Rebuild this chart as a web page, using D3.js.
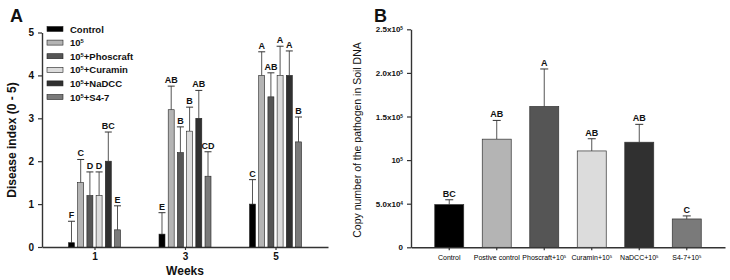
<!DOCTYPE html>
<html>
<head>
<meta charset="utf-8">
<script src="https://cdn.jsdelivr.net/npm/d3@7"></script>
<style>
  body { margin: 0; background: #fff; }
  svg { font-family: Arial, "Liberation Sans", sans-serif; }
</style>
</head>
<body>
<svg id="chart" width="730" height="280"></svg>
<script>
// ---- panel A data ----
var weeks = ["1", "3", "5"];
var seriesA = ["Control", "10^5", "10^5+Phoscraft", "10^5+Curamin", "10^5+NaDCC", "10^5+S4-7"];
var colors = ["#000000", "#b4b4b4", "#555555", "#dcdcdc", "#303030", "#7a7a7a"];
// disease index per week, one array per series
var meanA = [
  [0.1, 0.3, 1.0],
  [1.5, 3.2, 4.0],
  [1.2, 2.2, 3.5],
  [1.2, 2.7, 4.0],
  [2.0, 3.0, 4.0],
  [0.4, 1.65, 2.45]
];
var errA = [
  [0.5, 0.5, 0.57],
  [0.54, 0.55, 0.55],
  [0.55, 0.6, 0.56],
  [0.55, 0.56, 0.68],
  [0.68, 0.65, 0.57],
  [0.56, 0.57, 0.58]
];
var lettersA = [
  ["F", "E", "C"],
  ["C", "AB", "A"],
  ["D", "B", "AB"],
  ["D", "B", "A"],
  ["BC", "AB", "A"],
  ["E", "CD", "B"]
];
var ticksA = [0, 1, 2, 3, 4, 5];

// ---- panel B data ----
var groupsB = ["Control", "Postive control", "Phoscraft+10^5", "Curamin+10^5", "NaDCC+10^5", "S4-7+10^5"];
var meanB = [49000, 124000, 161500, 110500, 120500, 32500];
var errB = [5500, 21500, 43000, 14000, 20500, 3500];
var lettersB = ["BC", "AB", "A", "AB", "AB", "C"];
var ticksB = [0, 50000, 100000, 150000, 200000, 250000];
var tickLabelsB = ["0", "5.0x10^4", "10^5", "1.5x10^5", "2.0x10^5", "2.5x10^5"];

var svg = d3.select("#chart");

// writes "a^b" as text with superscript
function supText(sel, str) {
  sel.text(null);
  var parts = str.split(/\^(\d+)/);
  parts.forEach(function(p, i) {
    if (p === "") return;
    if (i % 2 === 1) {
      sel.append("tspan").attr("baseline-shift", "super").attr("font-size", "0.6em").text(p);
    } else {
      sel.append("tspan").text(p);
    }
  });
}

function styleAxis(g, size) {
  g.select(".domain").attr("stroke", "#333").attr("stroke-width", 1.4);
  g.selectAll(".tick line").attr("stroke", "#333").attr("stroke-width", 1.2);
  g.selectAll(".tick text").attr("fill", "#111").attr("font-weight", "bold").attr("font-size", size);
}

// ================= Panel A =================
var yA = d3.scaleLinear().domain([0, 5]).range([247, 32.5]);
var xA = d3.scalePoint().domain(weeks).range([42, 328]).padding(0.58);
var inner = d3.scaleBand().domain(d3.range(seriesA.length)).range([-26, 26]).paddingInner(0.35);

var gA = svg.append("g");

var yAxisA = gA.append("g")
  .attr("transform", "translate(42,0)")
  .call(d3.axisLeft(yA).tickValues(ticksA).tickFormat(d3.format("d")).tickSize(4).tickSizeOuter(0).tickPadding(4));
styleAxis(yAxisA, 10);

var xAxisA = gA.append("g")
  .attr("transform", "translate(0,247)")
  .call(d3.axisBottom(xA).tickSize(3).tickSizeOuter(0).tickPadding(3));
styleAxis(xAxisA, 10);

seriesA.forEach(function(s, si) {
  weeks.forEach(function(w, wi) {
    var x0 = xA(w) + inner(si);
    var bw = inner.bandwidth();
    var cx = x0 + bw / 2;
    var v = meanA[si][wi];
    var top = yA(v + errA[si][wi]);
    gA.append("line")
      .attr("x1", cx).attr("x2", cx)
      .attr("y1", yA(v)).attr("y2", top)
      .attr("stroke", "#555").attr("stroke-width", 1);
    gA.append("line")
      .attr("x1", cx - 3.5).attr("x2", cx + 3.5)
      .attr("y1", top).attr("y2", top)
      .attr("stroke", "#333").attr("stroke-width", 1);
    gA.append("rect")
      .attr("x", x0).attr("y", yA(v))
      .attr("width", bw).attr("height", yA(0) - yA(v))
      .attr("fill", colors[si]).attr("stroke", "#222").attr("stroke-width", 0.6);
    gA.append("text")
      .attr("x", cx).attr("y", top - 3)
      .attr("text-anchor", "middle")
      .attr("font-size", 9).attr("font-weight", "bold").attr("fill", "#111")
      .text(lettersA[si][wi]);
  });
});

// legend
var legend = gA.append("g").attr("transform", "translate(47,29)");
seriesA.forEach(function(s, i) {
  var row = legend.append("g").attr("transform", "translate(0," + (i * 13.6) + ")");
  row.append("rect")
    .attr("x", 0).attr("y", -2.5)
    .attr("width", 16).attr("height", 5)
    .attr("fill", colors[i]).attr("stroke", "#222").attr("stroke-width", 0.6);
  row.append("text")
    .attr("x", 23).attr("y", 3.5)
    .attr("font-size", 9.5).attr("font-weight", "bold").attr("fill", "#111")
    .call(supText, s);
});

gA.append("text")
  .attr("transform", "translate(16,140) rotate(-90)")
  .attr("text-anchor", "middle")
  .attr("font-size", 12).attr("font-weight", "bold").attr("fill", "#111")
  .text("Disease index (0 - 5)");

gA.append("text")
  .attr("x", 185).attr("y", 275)
  .attr("text-anchor", "middle")
  .attr("font-size", 12).attr("font-weight", "bold").attr("fill", "#111")
  .text("Weeks");

gA.append("text")
  .attr("x", 10).attr("y", 22)
  .attr("font-size", 18).attr("font-weight", "bold").attr("fill", "#111")
  .text("A");

// ================= Panel B =================
var yB = d3.scaleLinear().domain([0, 250000]).range([247.3, 29.3]);
var xB = d3.scaleBand().domain(groupsB).range([411, 725]).paddingInner(0.39).paddingOuter(0.5);

var gB = svg.append("g");

var yAxisB = gB.append("g")
  .attr("transform", "translate(411,0)")
  .call(d3.axisLeft(yB).tickValues(ticksB).tickSize(4).tickSizeOuter(0).tickPadding(4).tickFormat(""));
styleAxis(yAxisB, 8);
yAxisB.selectAll(".tick text").each(function(d, i) {
  d3.select(this).call(supText, tickLabelsB[i]);
});

var xAxisB = gB.append("g")
  .attr("transform", "translate(0,247.3)")
  .call(d3.axisBottom(xB).tickSize(3).tickSizeOuter(0).tickPadding(5));
styleAxis(xAxisB, 7);
xAxisB.selectAll(".tick text").attr("font-weight", "normal").attr("fill", "#000").each(function(d) {
  d3.select(this).call(supText, d);
});

groupsB.forEach(function(g, i) {
  var x0 = xB(g);
  var bw = xB.bandwidth();
  var cx = x0 + bw / 2;
  var v = meanB[i];
  var top = yB(v + errB[i]);
  gB.append("line")
    .attr("x1", cx).attr("x2", cx)
    .attr("y1", yB(v)).attr("y2", top)
    .attr("stroke", "#555").attr("stroke-width", 1);
  gB.append("line")
    .attr("x1", cx - 4).attr("x2", cx + 4)
    .attr("y1", top).attr("y2", top)
    .attr("stroke", "#333").attr("stroke-width", 1);
  gB.append("rect")
    .attr("x", x0).attr("y", yB(v))
    .attr("width", bw).attr("height", yB(0) - yB(v))
    .attr("fill", colors[i]).attr("stroke", "#333").attr("stroke-width", 0.7);
  gB.append("text")
    .attr("x", cx).attr("y", top - 3)
    .attr("text-anchor", "middle")
    .attr("font-size", 9).attr("font-weight", "bold").attr("fill", "#111")
    .text(lettersB[i]);
});

gB.append("text")
  .attr("transform", "translate(361,140) rotate(-90)")
  .attr("text-anchor", "middle")
  .attr("font-size", 10.5).attr("fill", "#111")
  .text("Copy number of the pathogen in Soil DNA");

gB.append("text")
  .attr("x", 374).attr("y", 22)
  .attr("font-size", 18).attr("font-weight", "bold").attr("fill", "#111")
  .text("B");
</script>
</body>
</html>
